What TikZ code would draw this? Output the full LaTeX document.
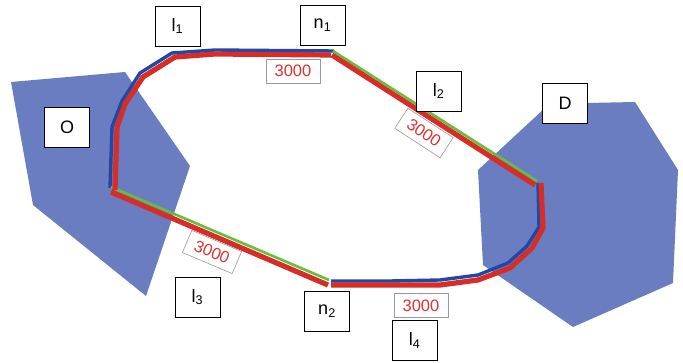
\documentclass[tikz,border=0pt]{standalone}
\usepackage{fontspec}
\setmainfont{Liberation Sans}
\definecolor{zonefill}{RGB}{107,125,193}
\definecolor{routered}{RGB}{214,45,38}
\definecolor{routeblue}{RGB}{32,72,170}
\definecolor{routegreen}{RGB}{102,190,62}
\definecolor{distred}{RGB}{222,50,50}
\begin{document}
\begin{tikzpicture}[x=1pt,y=-1pt,
  zone/.style={fill=zonefill,draw=none},
  redline/.style={draw=routered,line width=5.2pt,line join=round},
  blueline/.style={draw=routeblue,line width=3.4pt,line join=round},
  greenline/.style={draw=routegreen,line width=2.6pt},
  tag/.style={draw=black,line width=0.9pt,fill=white,minimum width=45pt,minimum height=40pt,inner sep=0pt,font=\fontsize{18}{20}\selectfont},
  dist/.style={draw=black!40,line width=0.6pt,fill=white,text=distred,minimum width=54pt,minimum height=24pt,inner sep=0pt,font=\fontsize{16.5}{18}\selectfont}]
\useasboundingbox (0,0) rectangle (683,363);
\fill[white] (0,0) rectangle (683,363);

% origin and destination zones
\path[zone] (11,82) -- (125,72) -- (190,166) -- (146,296) -- (33,205) -- cycle;
\path[zone] (478,170) -- (545,108) -- (587,103) -- (635,102) -- (678,170) -- (673,283) -- (573,327) -- (483,265) -- cycle;

% end points of the route segments
\coordinate (o) at (112,189);
\coordinate (n1) at (333,53);
\coordinate (d) at (539,183);
\coordinate (n2) at (330,283);

% upper route l1 and lower route l4 (blue), diagonal links l2, l3 (green)
\draw[blueline] (110,188) -- (112,127) -- (122,101) -- (140,73) -- (172,53) -- (215,50) -- (334,51);
\draw[blueline] (331,281) -- (390,281) -- (440,280) -- (478,275) -- (508,263) -- (527,246) -- (539,227) -- (538,183);
\draw[greenline] (333,51) -- (537,181);
\draw[greenline] (111,187) -- (329,280);

% red flow on every link
\draw[redline] (115,190) -- (117,127) -- (125,104) -- (143,77) -- (175,57) -- (215,54) -- (331,55);
\draw[redline] (332,55) -- (535,185);
\draw[redline] (541,183) -- (543,228) -- (532,248) -- (510,268) -- (478,280) -- (440,285) -- (390,285) -- (331,285);
\draw[redline] (328,285) -- (111,192);

% labels
\node[tag] (lO) at (67,127) {O};
\node[tag] (lD) at (565,103) {D};
\node[tag] (l1) at (177.5,26) {l\textsubscript{1}};
\node[tag] (ln1) at (322.5,25.5) {n\textsubscript{1}};
\node[tag] (l2) at (438.5,91) {l\textsubscript{2}};
\node[tag] (l3) at (197.5,297) {l\textsubscript{3}};
\node[tag] (ln2) at (327,311) {n\textsubscript{2}};
\node[tag] (l4) at (414.5,340.5) {l\textsubscript{4}};

% link lengths
\node[dist] (c1) at (293,71) {3000};
\node[dist,rotate=-33] (c2) at (424,133) {3000};
\node[dist,rotate=-23] (c3) at (212,252) {3000};
\node[dist] (c4) at (421,305.5) {3000};
\end{tikzpicture}
\end{document}
